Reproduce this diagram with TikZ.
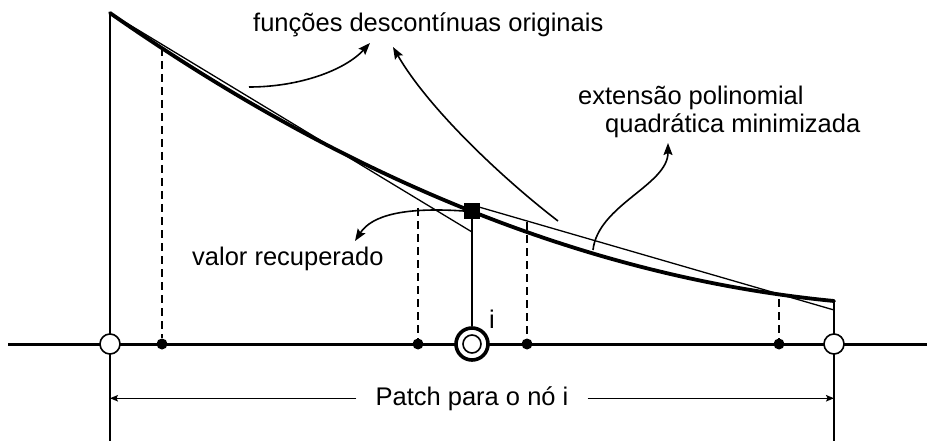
\documentclass[tikz,border=0pt]{standalone}
\usepackage{fontspec}
\setmainfont{Liberation Sans}
\usetikzlibrary{arrows.meta, positioning}

\tikzset{
  axisline/.style={line width=3pt},
  edgeline/.style={line width=1.6pt},
  thinline/.style={line width=1.3pt},
  thickcurve/.style={line width=3.8pt, line cap=round},
  dashline/.style={line width=1.5pt, dash pattern=on 8pt off 5pt},
  callout/.style={line width=1.6pt, -{Stealth[length=12pt, width=9pt, inset=2pt]}},
  dimarrow/.style={line width=1.4pt, -{Stealth[length=8pt, width=6.5pt, inset=1.5pt]}},
  opennode/.style={circle, draw, fill=white, line width=1.6pt, minimum size=20pt, inner sep=0pt},
  samplept/.style={circle, fill=black, minimum size=11pt, inner sep=0pt},
  txt/.style={font=\fontsize{25.5}{30}\selectfont, inner sep=0pt, anchor=base west},
}

\begin{document}
\begin{tikzpicture}[x=1pt, y=-1pt]
\useasboundingbox (0,0) rectangle (927,441);

% Axis and patch borders
\coordinate (axL) at (8,344);
\coordinate (axR) at (927,344);
\coordinate (top) at (110,13);
\coordinate (tail) at (834,301);
\coordinate (botL) at (110,441);
\coordinate (botR) at (834,441);
\draw[axisline] (axL) -- (axR);
\draw[edgeline] (top) -- (botL);
\draw[edgeline] (tail) -- (botR);

% Original (discontinuous) functions
\coordinate (endA) at (472,232);
\coordinate (startB) at (472,205);
\coordinate (endB) at (834,310);
\draw[thinline] (top) -- (endA);
\draw[thinline] (startB) -- (endB);

% Minimized quadratic extension
\draw[thickcurve] (top) .. controls (351.3,181.6) and (592.7,277.6) .. (tail);

% Sampling points
\node[samplept] (s1) at (162,344) {};
\node[samplept] (s2) at (418,344) {};
\node[samplept] (s3) at (527,344) {};
\node[samplept] (s4) at (779,344) {};
\coordinate (t1) at (162,48);
\coordinate (t2) at (418,208);
\coordinate (t3) at (527,222);
\coordinate (t4) at (779,299);
\draw[dashline] (t1) -- (s1);
\draw[dashline] (t2) -- (s2);
\draw[dashline] (t3) -- (s3);
\draw[dashline] (t4) -- (s4);

% Patch ends and node i
\node[opennode] (pL) at (110,344) {};
\node[opennode] (pR) at (834,344) {};
\node[circle, draw, fill=white, line width=3.6pt, minimum size=32pt, inner sep=0pt] (ni) at (472,344) {};
\node[circle, draw, line width=1.6pt, minimum size=18pt, inner sep=0pt] (niIn) at (ni) {};
\node[txt] (ilabel) at (489,328) {i};

% Recovered value
\node[fill=black, minimum size=16pt, inner sep=0pt] (val) at (472,211) {};
\draw[edgeline] (val.south) -- (ni.north);

% Labels
\node[txt] (orig) at (253,32) {funções descontínuas originais};
\node[txt] (ext1) at (578,105) {extensão polinomial};
\node[txt] (ext2) at (605,133) {quadrática minimizada};
\node[txt] (rec) at (192,265) {valor recuperado};
\node[txt, anchor=base, inner xsep=19pt] (patch) at (472,405) {Patch para o nó i};

% Callouts
\coordinate (c1s) at (249,87);
\coordinate (c1e) at (370,43);
\coordinate (c2s) at (558,221);
\coordinate (c2e) at (393,47);
\coordinate (c3s) at (593,250);
\coordinate (c3e) at (668,143);
\coordinate (c4e) at (355,241);
\draw[callout] (c1s) .. controls (300,87) and (345,70) .. (c1e);
\draw[callout] (c2s) .. controls (502,178) and (428,108) .. (c2e);
\draw[callout] (c3s) .. controls (598,205) and (668,185) .. (c3e);
\draw[callout] (val.west) .. controls (405,207) and (372,215) .. (c4e);

% Patch extent
\draw[dimarrow] (patch.west) -- (patch.west -| top);
\draw[dimarrow] (patch.east) -- (patch.east -| tail);
\end{tikzpicture}
\end{document}
